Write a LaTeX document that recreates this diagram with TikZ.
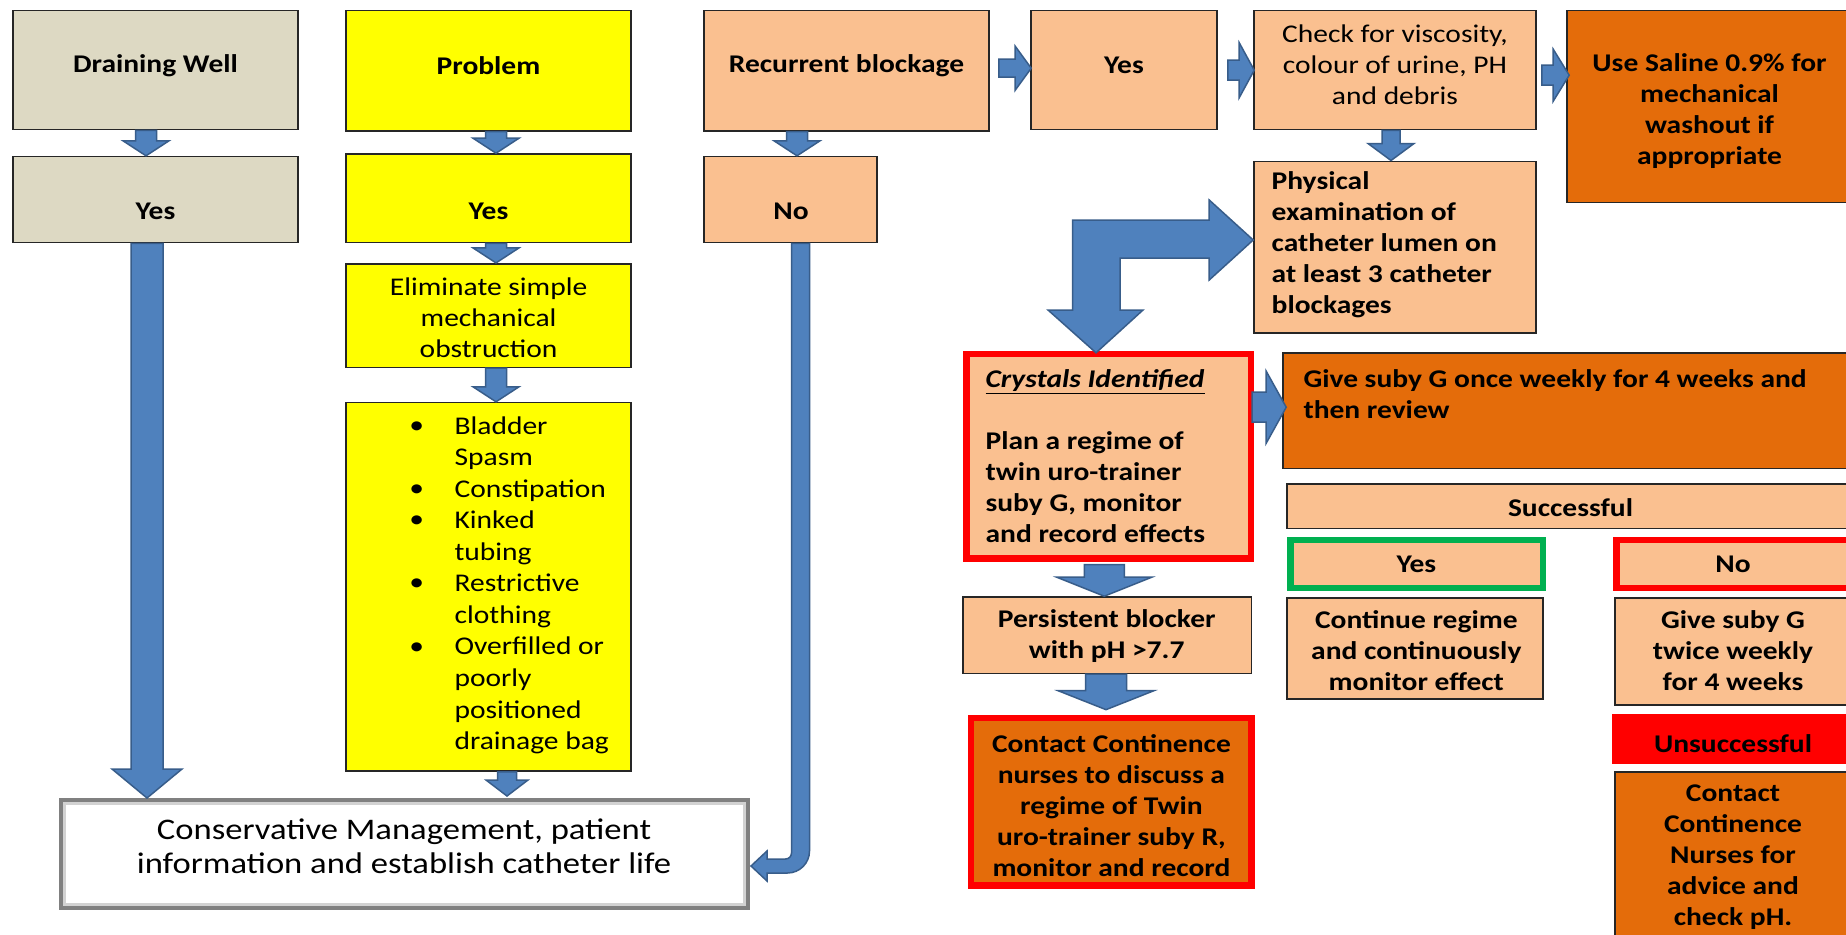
\documentclass[tikz,border=0pt]{standalone}
\usepackage{fontspec}
\setmainfont{Carlito}[FakeStretch=1.157]
\usetikzlibrary{calc,fit}
\definecolor{tanc}{HTML}{DDD9C3}
\definecolor{yelc}{HTML}{FFFF00}
\definecolor{peach}{HTML}{FAC090}
\definecolor{dorange}{HTML}{E46C0A}
\definecolor{redc}{HTML}{FF0000}
\definecolor{greenc}{HTML}{00B050}
\definecolor{ablue}{HTML}{4F81BD}
\definecolor{aedge}{HTML}{385D8A}
\definecolor{edgec}{HTML}{262626}
\definecolor{consedge}{HTML}{808080}
\newcommand\fs{\fontsize{25.5}{31}\selectfont}
\newcommand\fsb{\fontsize{25.5}{31.55}\selectfont}
\newcommand\fsc{\fontsize{29.9}{34.2}\selectfont}
% #1 start (y used), #2 tip, #3 shaft width, #4 head width, #5 head length
\newcommand\bdown[5]{%
  \path[barrow] let \p1=#1, \p2=#2 in
   (\x2-#3/2,\y1) -- (\x2+#3/2,\y1) -- (\x2+#3/2,\y2+#5) -- (\x2+#4/2,\y2+#5)
   -- (\x2,\y2) -- (\x2-#4/2,\y2+#5) -- (\x2-#3/2,\y2+#5) -- cycle;}
\newcommand\bright[5]{%
  \path[barrow] let \p1=#1, \p2=#2 in
   (\x1,\y2+#3/2) -- (\x2-#5,\y2+#3/2) -- (\x2-#5,\y2+#4/2) -- (\x2,\y2)
   -- (\x2-#5,\y2-#4/2) -- (\x2-#5,\y2-#3/2) -- (\x1,\y2-#3/2) -- cycle;}
\begin{document}
\begin{tikzpicture}[x=1pt,y=-1pt,
  bx/.style={draw=edgec, line width=1.6pt, inner sep=0pt},
  rbx/.style={draw=redc, line width=6.5pt, inner sep=0pt},
  gbx/.style={draw=greenc, line width=6.5pt, inner sep=0pt},
  tb/.style={inner sep=0pt, align=center, font=\fs\bfseries},
  tr/.style={inner sep=0pt, align=center, font=\fs},
  tbl/.style={inner sep=0pt, align=left, anchor=west, font=\fs\bfseries},
  barrow/.style={fill=ablue, draw=aedge, line width=1.5pt, line join=miter}]
\useasboundingbox (0,0) rectangle (1846,934);
\clip (0,0) rectangle (1846,934);
\fill[white] (0,0) rectangle (1846,934);

% ---------- boxes ----------
\node[bx, fill=tanc, fit={(13,10.6)(298,129.5)}] (dw) {};
\node[bx, fill=yelc, fit={(346,10.6)(631,130.7)}] (pr) {};
\node[bx, fill=peach, fit={(704,10.6)(989,130.7)}] (rb) {};
\node[bx, fill=peach, fit={(1031,10.6)(1217,129.5)}] (y1) {};
\node[bx, fill=peach, fit={(1254,10.6)(1536,129.5)}] (ck) {};
\node[bx, fill=dorange, fit={(1567,10.6)(1856,202.5)}] (sa) {};
\node[bx, fill=tanc, fit={(13,156.6)(298,242.5)}] (dwy) {};
\node[bx, fill=yelc, fit={(346,154)(631,242.5)}] (pry) {};
\node[bx, fill=peach, fit={(704,156.6)(877,242.5)}] (no) {};
\node[bx, fill=yelc, fit={(346,263.7)(631,367.3)}] (el) {};
\node[bx, fill=yelc, fit={(346,402.6)(631,771.1)}] (bl) {};
\node[draw=consedge, line width=4pt, fill=white, inner sep=0pt, fit={(60.9,800)(748,908)}] (cons) {};
\draw[gray!35, line width=3pt] (64.5,803.5) rectangle (744.5,904.5);
\node[bx, fill=peach, fit={(1254,161.3)(1536,333.2)}] (ph) {};
\node[rbx, fill=peach, fit={(966.25,354.05)(1250.75,558.35)}] (cr) {};
\node[bx, fill=dorange, fit={(1283,353)(1856,468.6)}] (gs) {};
\node[bx, fill=peach, fit={(1287,483.9)(1856,528.6)}] (su) {};
\node[gbx, fill=peach, fit={(1290.25,540)(1542.75,587.75)}] (yg) {};
\node[rbx, fill=peach, fit={(1616.25,540)(1860,587.75)}] (nr) {};
\node[bx, fill=peach, fit={(1287,598)(1543,699)}] (co) {};
\node[bx, fill=peach, fit={(1615,598)(1856,705)}] (gt) {};
\node[draw=redc, line width=1.6pt, fill=redc, inner sep=0pt, fit={(1613,714.6)(1856,763)}] (un) {};
\node[bx, fill=dorange, fit={(1615,772)(1856,950)}] (cn) {};
\node[bx, fill=peach, fit={(963,597)(1251.5,673.4)}] (pe) {};
\node[rbx, fill=dorange, fit={(971,717.9)(1251.7,885.5)}] (cc) {};

% ---------- block arrows ----------
\bdown{(dw.south)}{($(dwy.north)+(-9.5,0)$)}{21pt}{46pt}{15pt}
\bdown{(pr.south)}{($(pry.north)+(7.5,0)$)}{21pt}{46pt}{15pt}
\bdown{(pry.south)}{($(el.north)+(7.5,0)$)}{21pt}{46pt}{15pt}
\bdown{(el.south)}{($(bl.north)+(7.5,0)$)}{21pt}{46pt}{15pt}
\bdown{(bl.south)}{($(bl.south |- cons.north)+(18.5,-2)$)}{19pt}{42pt}{16pt}
\bdown{(rb.south)}{($(no.north)+(6.5,0)$)}{21pt}{46pt}{15pt}
\bdown{(ck.south)}{($(ph.north)+(-4,0)$)}{18pt}{46pt}{17pt}
\bdown{(dwy.south)}{($(dwy.south |- cons.north)+(-8.5,0)$)}{32pt}{70pt}{29pt}
\bdown{($(cr.south)+(0,3)$)}{($(pe.north)+(-3,0)$)}{40pt}{95pt}{19pt}
\bdown{(pe.south)}{($(cc.north)+(-5.35,-5)$)}{41pt}{96pt}{19pt}

\bright{($(rb.east)+(9,0)$)}{($(y1.north west)+(1,58.4)$)}{18pt}{44pt}{16pt}
\bright{($(y1.east)+(10,0)$)}{($(ck.north west)+(1,60.4)$)}{20pt}{55pt}{15pt}
\bright{($(ck.east)+(5,0)$)}{($(sa.north west)+(3,65.4)$)}{20pt}{52pt}{16pt}
\bright{($(cr.east)+(-2,0)$)}{($(gs.north west)+(4,55)$)}{30pt}{72pt}{20pt}

% bent double-headed arrow between Physical examination and Crystals
\path[barrow] let \p1=(ph.west), \p2=(cr.north) in
  (\x2-35.8pt,\y1+27.25pt) -- (\x1-44pt,\y1+27.25pt) -- (\x1-44pt,\y1+47.25pt)
  -- (\x1,\y1+7.25pt) -- (\x1-44pt,\y1-32.75pt) -- (\x1-44pt,\y1-10.75pt)
  -- (\x2+11.5pt,\y1-10.75pt) -- (\x2+11.5pt,\y2+40.8pt) -- (\x2+34.5pt,\y2+40.8pt)
  -- (\x2-12.5pt,\y2-2pt) -- (\x2-60.5pt,\y2+40.8pt) -- (\x2-35.8pt,\y2+40.8pt) -- cycle;

% No -> Conservative (rounded bent arrow)
\coordinate (nt) at ($(no.south)+(10,0)$);
\coordinate (ct) at ($(cons.east)+(1,12)$);
\path[barrow] let \p1=(nt), \p2=(ct) in
  (\x1-9pt,\y1) -- (\x1+9pt,\y1) -- (\x1+9pt,\y2+15pt) arc(0:-90:22pt)
  -- (\x2+16pt,\y2-7pt) -- (\x2+16pt,\y2-15pt) -- (\x2,\y2) -- (\x2+16pt,\y2+15pt)
  -- (\x2+16pt,\y2+7pt) -- (\x1-15pt,\y2+7pt) arc(-90:0:6pt) -- cycle;

% ---------- texts ----------
\node[tb] (dwt) at (155.5,65.5) {Draining Well};
\node[tb] (prt) at (488.5,65.5) {Problem};
\node[tb] (rbt) at (846.5,65.5) {Recurrent blockage};
\node[tb] (y1t) at (1124,65.5) {Yes};
\node[tr] (ckt) at (1395,64.8) {Check for viscosity,\\colour of urine, PH\\and debris};
\node[tb] (sat) at (1709.5,111.3) {Use Saline 0.9\% for\\mechanical\\washout if\\appropriate};
\node[tb] (dwyt) at (155.5,211.5) {Yes};
\node[tb] (pryt) at (488.5,211.5) {Yes};
\node[tb] (nott) at (791,211.5) {No};
\node[tr] (elt) at (488.6,317.9) {Eliminate simple\\mechanical\\obstruction};
\node[inner sep=0pt, align=left, anchor=west, font=\fsb] (blt) at (454.4,585.15)
  {Bladder\\Spasm\\Constipation\\Kinked\\tubing\\Restrictive\\clothing\\Overfilled or\\poorly\\positioned\\drainage bag};
\node[tr] (bu1) at (416.8,427.4) {\textbullet};
\node[tr] (bu2) at (416.8,490.5) {\textbullet};
\node[tr] (bu3) at (416.8,522.05) {\textbullet};
\node[tr] (bu4) at (416.8,585.15) {\textbullet};
\node[tr] (bu5) at (416.8,648.25) {\textbullet};
\node[inner sep=0pt, align=center, font=\fsc] (const) at (404,846)
  {Conservative Management, patient\\information and establish catheter life};
\node[tbl] (pht) at (1271.5,244.9) {Physical\\examination of\\catheter lumen on\\at least 3 catheter\\blockages};
\node[tbl] (crt) at (985.4,456.2) {\underline{\textit{Crystals Identified}}\\[31pt]Plan a regime of\\twin uro-trainer\\suby G, monitor\\and record effects};
\node[tbl] (gst) at (1303.3,394.4) {Give suby G once weekly for 4 weeks and\\then review};
\node[tb] (sut) at (1570.5,508) {Successful};
\node[tb] (ygt) at (1416.3,564.5) {Yes};
\node[tb] (nrt) at (1733,564.5) {No};
\node[tb] (cot) at (1416.3,651) {Continue regime\\and continuously\\monitor effect};
\node[tb] (gtt) at (1733,651) {Give suby G\\twice weekly\\for 4 weeks};
\node[tb] (unt) at (1733,743.5) {Unsuccessful};
\node[tb] (cnt) at (1733,857.6) {Contact\\Continence\\Nurses for\\advice and\\check pH.};
\node[tb] (pet) at (1106.7,635.7) {Persistent blocker\\with pH >7.7};
\node[tb] (cct) at (1111.4,805.9) {Contact Continence\\nurses to discuss a\\regime of Twin\\uro-trainer suby R,\\monitor and record};
\end{tikzpicture}
\end{document}
